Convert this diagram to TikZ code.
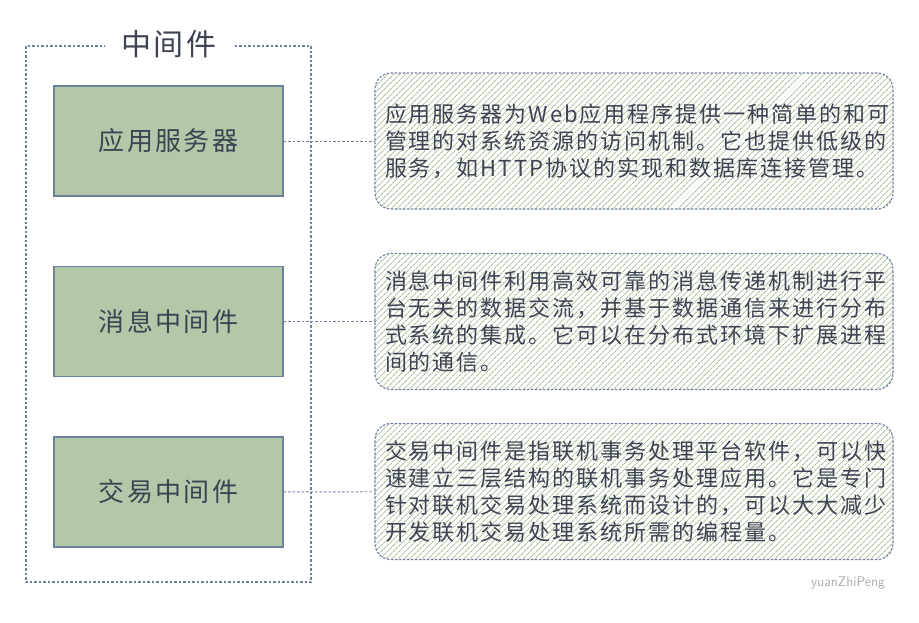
\documentclass[tikz,border=0pt]{standalone}
\usepackage{fontspec}
\usepackage{xcolor}
\usepackage{tikz}
\usetikzlibrary{patterns.meta}
\newfontfamily\cjk{Noto Sans CJK SC}
\newfontfamily\cjkkuan{Noto Sans CJK SC}[LetterSpace=9]
\definecolor{moZi}{HTML}{3D4352}
\definecolor{huiLan}{HTML}{6F7F9E}
\definecolor{caoLv}{HTML}{B2C8A8}
\definecolor{xieXian}{HTML}{A5C497}
\definecolor{qianHui}{HTML}{ABABAB}

\begin{document}
\begin{tikzpicture}[x=1pt,y=-1pt,
  hezi/.style={draw=huiLan,line width=1.2pt,fill=caoLv,minimum width=229pt,
               minimum height=110pt,font=\cjkkuan\fontsize{26}{30}\selectfont,text=moZi},
  shuoming/.style={draw=huiLan,line width=1.1pt,dash pattern=on 2.5pt off 1.5pt,
               rounded corners=16pt,
               pattern={Lines[angle=45,distance=4pt,line width=1pt]},pattern color=xieXian,
               minimum width=518pt,minimum height=136pt,inner sep=10pt,
               text width=498pt,align=left,text=moZi,
               font=\cjkkuan\fontsize{22}{27}\selectfont},
  lianxian/.style={draw=huiLan,line width=0.9pt,dash pattern=on 2.5pt off 2pt}]
\useasboundingbox (0,0) rectangle (919,622);
% outer frame
\draw[huiLan,line width=1.3pt,dash pattern=on 2.5pt off 2pt] (26,46) rectangle (311,582);
\node[fill=white,inner xsep=16pt,inner ysep=2pt,text=moZi,
      font=\cjkkuan\fontsize{30}{34}\selectfont] (biaoti) at (169,44) {中间件};
% left boxes
\node[hezi] (app) at (168.5,141) {应用服务器};
\node[hezi] (msg) at (168.5,321.5) {消息中间件};
\node[hezi] (txn) at (168.5,492) {交易中间件};
% descriptions
\node[shuoming] (appdesc) at (634,141)
  {应用服务器为Web应用程序提供一种简单的和可\\管理的对系统资源的访问机制。它也提供低级的\\服务，如HTTP协议的实现和数据库连接管理。};
\node[shuoming] (msgdesc) at (634,321.5)
  {消息中间件利用高效可靠的消息传递机制进行平\\台无关的数据交流，并基于数据通信来进行分布\\式系统的集成。它可以在分布式环境下扩展进程\\间的通信。};
\node[shuoming] (txndesc) at (634,491.5)
  {交易中间件是指联机事务处理平台软件，可以快\\速建立三层结构的联机事务处理应用。它是专门\\针对联机交易处理系统而设计的，可以大大减少\\开发联机交易处理系统所需的编程量。};
\draw[lianxian] (app) -- (appdesc);
\draw[lianxian] (msg) -- (msgdesc);
\draw[lianxian] (txn) -- (txndesc);
\node[text=qianHui,font=\sffamily\fontsize{14}{16}\selectfont] (shuiyin) at (848,583) {yuanZhiPeng};
\end{tikzpicture}
\end{document}
